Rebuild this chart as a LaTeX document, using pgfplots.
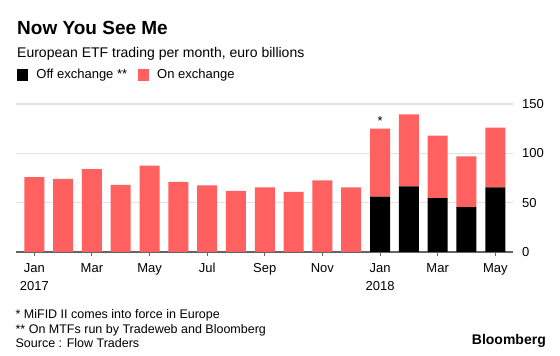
\documentclass[border=0pt]{standalone}
\usepackage{pgfplots}
\usepackage{pgfplotstable}
\pgfplotsset{compat=1.18}
\usepackage{fontspec}
\setmainfont{Liberation Sans}
\definecolor{onex}{RGB}{255,96,96}
\definecolor{gridc}{RGB}{226,226,226}
\definecolor{axisc}{RGB}{100,100,100}
\pgfplotstableread{
x off on
0 0 76
1 0 74
2 0 84
3 0 68
4 0 87.5
5 0 71
6 0 67.5
7 0 62
8 0 65.5
9 0 61
10 0 72.5
11 0 65.5
12 56 69
13 66.5 73
14 54.5 63.5
15 45.5 51.5
16 65.5 60.5
}\etfdata
\begin{document}
\begin{tikzpicture}[x=1pt,y=1pt]
\useasboundingbox (0,0) rectangle (560,356);
\node[anchor=base west, inner sep=0, font=\fontsize{19}{22}\selectfont\bfseries] at (17,321.2) {Now You See Me};
\node[anchor=base west, inner sep=0, font=\fontsize{14}{17}\selectfont] at (17,298.6) {European ETF trading per month, euro billions};
\node[anchor=base west, inner sep=0, font=\fontsize{12.5}{14}\selectfont] at (15.4,37.2) {* MiFID II comes into force in Europe};
\node[anchor=base west, inner sep=0, font=\fontsize{12.5}{14}\selectfont] at (15.4,22.9) {** On MTFs run by Tradeweb and Bloomberg};
\node[anchor=base west, inner sep=0, font=\fontsize{12.5}{14}\selectfont] at (15.4,8.5) {Source : Flow Traders};
\node[anchor=base east, inner sep=0, font=\fontsize{14}{16}\selectfont\bfseries] at (546,11) {Bloomberg};
\begin{axis}[
  at={(16pt,104pt)}, anchor=south west,
  scale only axis, width=497pt, height=148pt,
  xmin=-0.635, xmax=16.615, ymin=0, ymax=150,
  ybar stacked, bar width=20pt,
  axis x line*=bottom, axis y line*=right,
  x axis line style={axisc, line width=1.2pt, -},
  y axis line style={draw=none},
  ytick={0,50,100,150},
  ymajorgrids, grid style={gridc, line width=1.2pt},
  ytick style={draw=none},
  xtick={0,2,...,16},
  xticklabels={{Jan\\2017},Mar,May,Jul,Sep,Nov,{Jan\\2018},Mar,May},
  xtick align=outside,
  xtick style={axisc, line width=1pt},
  major tick length=4pt,
  xticklabel style={align=center, font=\fontsize{13}{18.3}\selectfont, inner sep=0pt, yshift=-7pt},
  yticklabel style={font=\fontsize{13}{15}\selectfont, inner sep=0pt, anchor=west, xshift=9pt},
  /pgf/number format/assume math mode=true,
  legend style={at={(0.0024,1.196)}, anchor=west, draw=none, fill=none,
    legend columns=-1, inner sep=0pt, font=\fontsize{13}{15}\selectfont,
    nodes={inner sep=0pt},
    /tikz/every odd column/.append style={column sep=8pt},
    /tikz/every even column/.append style={column sep=11pt}},
  sq legend/.style={legend image code/.code={\fill[##1] (0pt,-5.7pt) rectangle (11pt,5.7pt);}},
]
\addplot[fill=black, draw=none, sq legend] table[x=x, y=off]{\etfdata};
\addlegendentry{Off exchange **}
\addplot[fill=onex, draw=none, sq legend] table[x=x, y=on]{\etfdata};
\addlegendentry{On exchange}
\node[font=\fontsize{13}{15}\selectfont, anchor=base] at (axis cs:12,128.5) {*};
\end{axis}
\end{tikzpicture}
\end{document}
